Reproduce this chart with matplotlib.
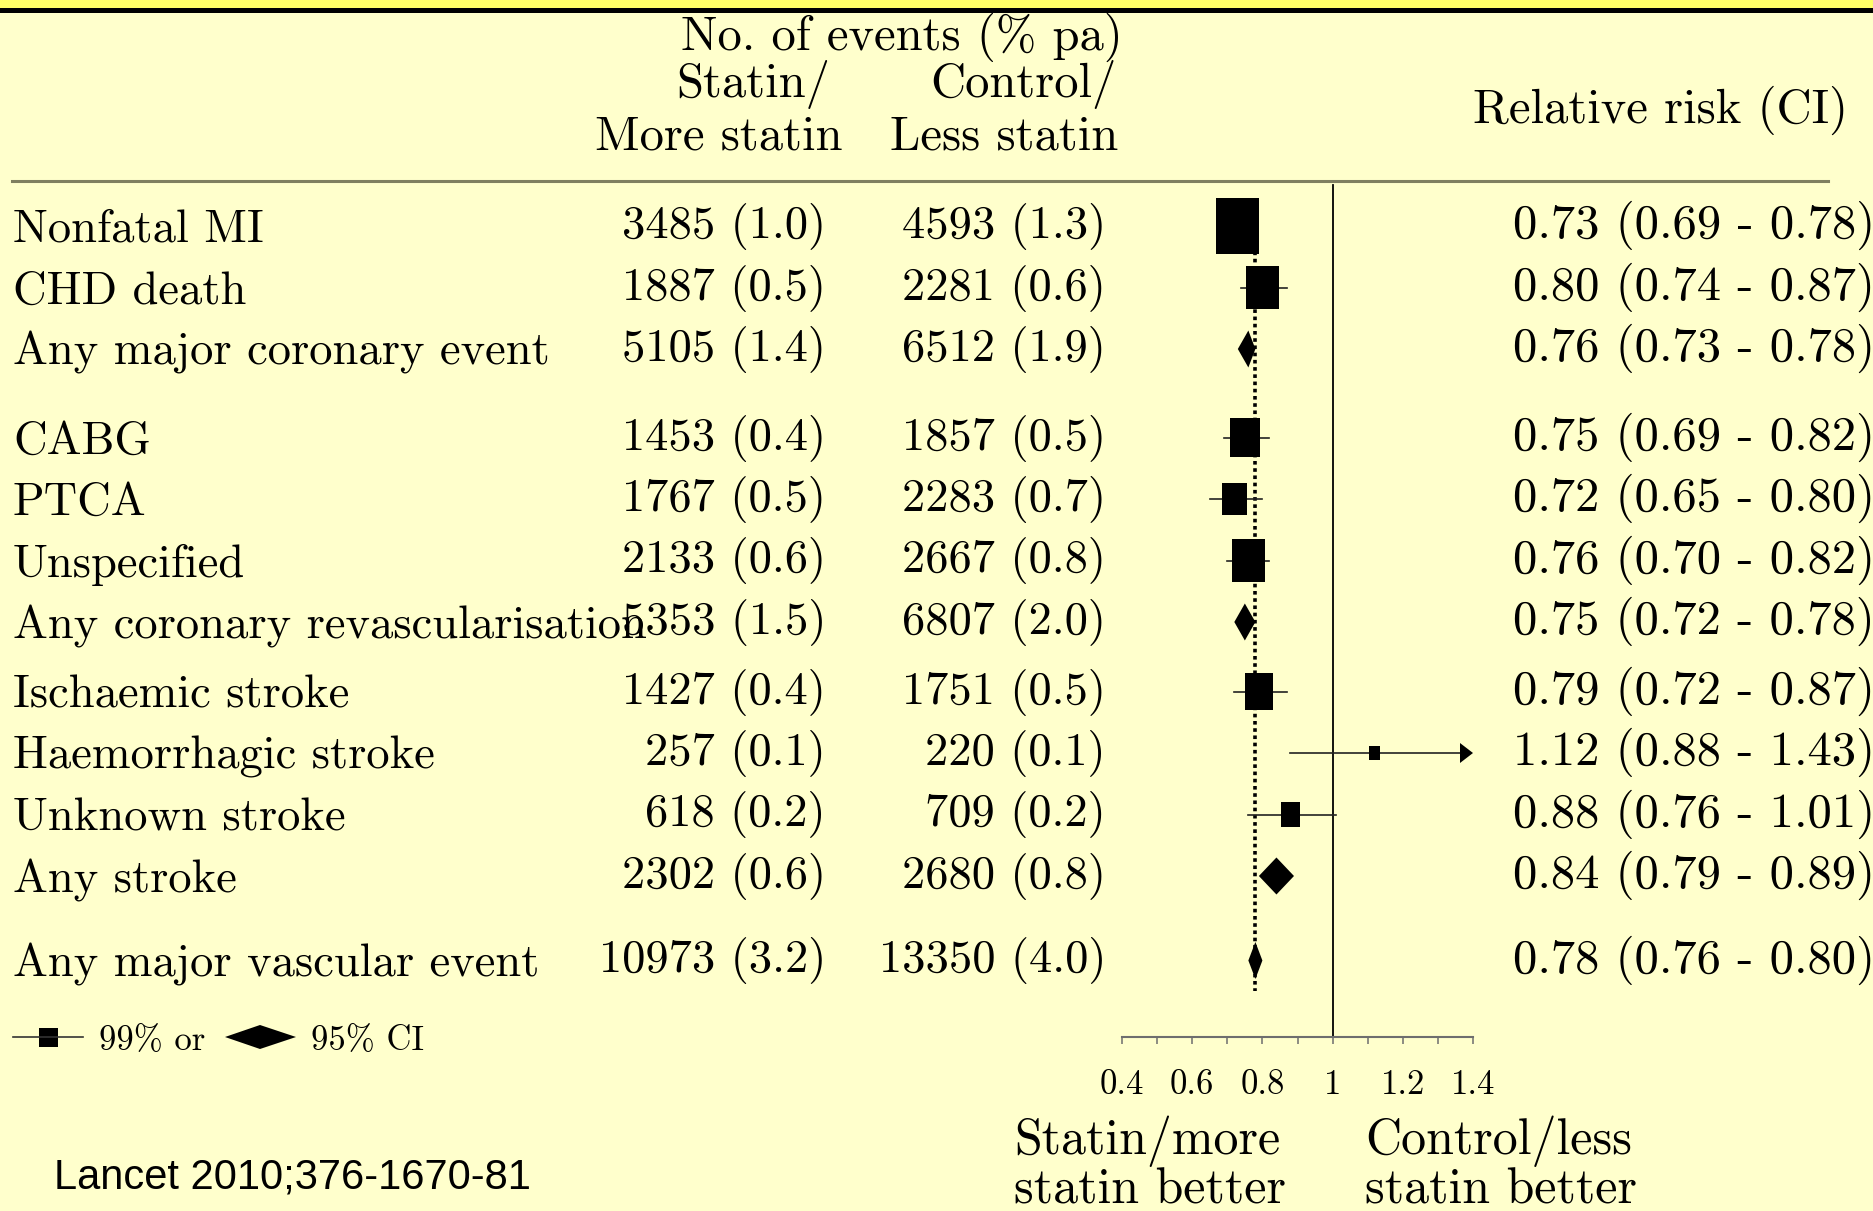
import numpy as np
import matplotlib
matplotlib.use("Agg")
import matplotlib.pyplot as plt
from matplotlib.patches import Rectangle, Polygon

# Statin trials: effect on vascular events (CTT, Lancet 2010)
outcomes = ["Nonfatal MI", "CHD death", "Any major coronary event",
            "CABG", "PTCA", "Unspecified", "Any coronary revascularisation",
            "Ischaemic stroke", "Haemorrhagic stroke", "Unknown stroke", "Any stroke",
            "Any major vascular event"]
statin_n = [3485, 1887, 5105, 1453, 1767, 2133, 5353, 1427, 257, 618, 2302, 10973]
statin_pct = [1.0, 0.5, 1.4, 0.4, 0.5, 0.6, 1.5, 0.4, 0.1, 0.2, 0.6, 3.2]
control_n = [4593, 2281, 6512, 1857, 2283, 2667, 6807, 1751, 220, 709, 2680, 13350]
control_pct = [1.3, 0.6, 1.9, 0.5, 0.7, 0.8, 2.0, 0.5, 0.1, 0.2, 0.8, 4.0]
rr = [0.73, 0.80, 0.76, 0.75, 0.72, 0.76, 0.75, 0.79, 1.12, 0.88, 0.84, 0.78]
ci_lo = [0.69, 0.74, 0.73, 0.69, 0.65, 0.70, 0.72, 0.72, 0.88, 0.76, 0.79, 0.76]
ci_hi = [0.78, 0.87, 0.78, 0.82, 0.80, 0.82, 0.78, 0.87, 1.43, 1.01, 0.89, 0.80]
is_total = [False, False, True, False, False, False, True, False, False, False, True, True]
group = [0, 0, 0, 1, 1, 1, 1, 2, 2, 2, 2, 3]
xticks = [0.4, 0.6, 0.8, 1.0, 1.2, 1.4]
xtick_labels = ["0.4", "0.6", "0.8", "1", "1.2", "1.4"]

BG = "#FFFFCC"
W, H = 1873, 1211
plt.rcParams["font.family"] = ["cmr10", "DejaVu Serif"]
plt.rcParams["axes.unicode_minus"] = False

fig = plt.figure(figsize=(W / 100, H / 100), dpi=100)
fig.patch.set_facecolor(BG)

# fondo en coordenadas de pixel (y hacia abajo)
bg = fig.add_axes([0, 0, 1, 1])
bg.set_xlim(0, W)
bg.set_ylim(H, 0)
bg.axis("off")
bg.add_patch(Rectangle((0, 0), W, 8, color="#FFFF66", lw=0))
bg.add_patch(Rectangle((0, 8), W, 5, color="black", lw=0))
bg.plot([12, 1828], [181, 181], color="#7f7f60", lw=2.2)

# cabecera
hdr = 35
bg.text(1123, 50, "No. of events (% pa)", ha="right", va="baseline", fontsize=hdr)
bg.text(830, 97, "Statin/", ha="right", va="baseline", fontsize=hdr)
bg.text(1117, 97, "Control/", ha="right", va="baseline", fontsize=hdr)
bg.text(843, 150, "More statin", ha="right", va="baseline", fontsize=hdr)
bg.text(1118, 150, "Less statin", ha="right", va="baseline", fontsize=hdr)
bg.text(1848, 123, "Relative risk (CI)", ha="right", va="baseline", fontsize=hdr)

# posiciones de filas
gap_extra = np.array([0, 27, 35, 58])
row_y = 226 + 61.5 * np.arange(len(outcomes)) + gap_extra[group]

for i, name in enumerate(outcomes):
    y = row_y[i]
    bg.text(13, y + 16, name, ha="left", va="baseline", fontsize=33.5)
    bg.text(826, y + 12, f"{statin_n[i]} ({statin_pct[i]:.1f})",
            ha="right", va="baseline", fontsize=33.5)
    bg.text(1106, y + 12, f"{control_n[i]} ({control_pct[i]:.1f})",
            ha="right", va="baseline", fontsize=33.5)
    bg.text(1513, y + 12, f"{rr[i]:.2f} ({ci_lo[i]:.2f} - {ci_hi[i]:.2f})",
            ha="left", va="baseline", fontsize=35)

# forest plot
X0, X1 = 1122, 1473
AX_TOP, AX_BOT = 170, 1037
ax = fig.add_axes([X0 / W, 1 - AX_BOT / H, (X1 - X0) / W, (AX_BOT - AX_TOP) / H])
ax.set_xlim(0.4, 1.4)
ax.set_ylim(AX_BOT, AX_TOP)
ax.patch.set_visible(False)
px = (X1 - X0) / (1.4 - 0.4)

ax.plot([1, 1], [185, AX_BOT], color="black", lw=1.3, clip_on=False, zorder=1)
ax.plot([rr[-1], rr[-1]], [row_y[0] - 25, row_y[-1] + 30], color="black",
        lw=2.6, ls=(0, (1, 1)), zorder=1)

for i in range(len(outcomes)):
    y = row_y[i]
    lo, hi, est = ci_lo[i], ci_hi[i], rr[i]
    if is_total[i]:
        ax.add_patch(Polygon([(lo, y), (est, y - 18.5), (hi, y), (est, y + 18.5)],
                             closed=True, color="black", lw=0, zorder=3))
        continue
    end = min(hi, 1.4)
    head = 13 / px
    ax.plot([lo, end - (head if hi > 1.4 else 0)], [y, y], color="#222222", lw=1.2, zorder=2)
    if hi > 1.4:
        ax.add_patch(Polygon([(1.4, y), (1.4 - head, y - 10), (1.4 - head, y + 10)],
                             closed=True, color="black", lw=0, clip_on=False, zorder=3))
    # tamaño de la caja ~ inverso de la varianza
    se = (np.log(hi) - np.log(lo)) / (2 * 2.576)
    wpx = np.sqrt(1 / se ** 2) * 1.02
    bw, bh = wpx / px, 1.3 * wpx
    ax.add_patch(Rectangle((est - bw / 2, y - bh / 2), bw, bh, color="black", lw=0, zorder=3))

for s in ["left", "top", "right"]:
    ax.spines[s].set_visible(False)
ax.spines["bottom"].set_color("#6e6e6e")
ax.spines["bottom"].set_linewidth(1.5)
ax.set_yticks([])
ax.set_xticks(xticks)
ax.set_xticklabels(xtick_labels, fontsize=25)
ax.set_xticks([0.5, 0.7, 0.9, 1.1, 1.3], minor=True)
ax.tick_params(axis="x", which="both", direction="out", length=5, width=1.1,
               color="#6e6e6e", pad=18)

bg.text(1014, 1154, "Statin/more", ha="left", va="baseline", fontsize=36)
bg.text(1014, 1203, "statin better", ha="left", va="baseline", fontsize=36)
bg.text(1365, 1154, "Control/less", ha="left", va="baseline", fontsize=36)
bg.text(1365, 1203, "statin better", ha="left", va="baseline", fontsize=36)

# leyenda
bg.plot([13, 83], [1037, 1037], color="#333333", lw=1.2)
bg.add_patch(Rectangle((39, 1028), 19, 19, color="black", lw=0))
bg.text(99, 1050, "99% or", ha="left", va="baseline", fontsize=25)
bg.add_patch(Polygon([(225, 1037), (260, 1025), (296, 1037), (260, 1049)],
                     closed=True, color="black", lw=0))
bg.text(311, 1050, "95% CI", ha="left", va="baseline", fontsize=25)

bg.text(54, 1188, "Lancet 2010;376-1670-81", ha="left", va="baseline",
        fontsize=30, family="Liberation Sans")

fig.savefig("out.png", dpi=100, facecolor=BG)
